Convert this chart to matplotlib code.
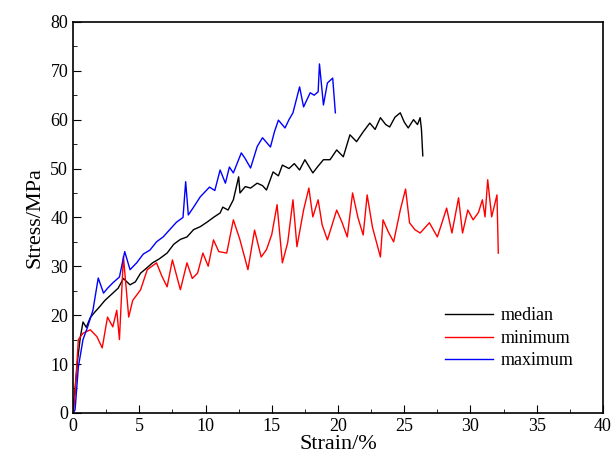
import matplotlib
matplotlib.use("Agg")
import matplotlib.pyplot as plt
from matplotlib.ticker import MultipleLocator

# strain (%) and stress (MPa)
median_strain = [0.0, 0.15, 0.35, 0.55, 0.75, 1.0, 1.3, 1.6, 2.0, 2.4, 3.0, 3.4, 3.8, 4.3, 4.7, 5.1, 5.5, 6.0, 6.5, 7.1,
                 7.6, 8.1, 8.6, 9.1, 9.6, 10.1, 10.6, 11.1, 11.3, 11.7, 12.1, 12.5, 12.6, 13.0, 13.4, 13.9, 14.3, 14.6,
                 15.1, 15.5, 15.8, 16.3, 16.7, 17.1, 17.5, 18.1, 18.5, 18.9, 19.4, 19.9, 20.4, 20.9, 21.4, 21.9, 22.4,
                 22.8, 23.2, 23.6, 23.9, 24.3, 24.7, 25.0, 25.3, 25.7, 26.0, 26.2, 26.3, 26.4]
median_stress = [0.0, 5.0, 11.0, 15.5, 18.6, 17.5, 19.5, 20.5, 21.7, 23.0, 24.5, 25.5, 27.5, 26.2, 26.8, 28.6, 29.5, 30.7,
                 31.5, 32.7, 34.5, 35.5, 36.0, 37.5, 38.1, 39.0, 40.0, 40.9, 42.1, 41.5, 43.6, 48.3, 45.0, 46.3, 46.0,
                 47.0, 46.5, 45.6, 49.3, 48.5, 50.7, 50.0, 51.0, 49.7, 51.8, 49.1, 50.5, 51.8, 51.8, 53.8, 52.4, 56.9,
                 55.5, 57.5, 59.3, 58.0, 60.4, 59.0, 58.5, 60.5, 61.4, 59.5, 58.3, 60.0, 59.0, 60.4, 58.0, 52.6]

minimum_strain = [0.0, 0.15, 0.4, 0.75, 1.3, 1.8, 2.2, 2.6, 3.0, 3.3, 3.5, 3.8, 4.2, 4.5, 5.1, 5.6, 6.3, 6.7, 7.1, 7.5,
                  8.1, 8.6, 9.0, 9.4, 9.8, 10.2, 10.6, 11.0, 11.6, 12.1, 12.6, 13.2, 13.7, 14.2, 14.6, 15.0, 15.4, 15.8,
                  16.2, 16.6, 16.9, 17.4, 17.8, 18.1, 18.5, 18.8, 19.2, 19.5, 19.9, 20.3, 20.7, 21.1, 21.5, 21.9, 22.2,
                  22.6, 23.2, 23.4, 23.8, 24.2, 24.7, 25.1, 25.4, 25.8, 26.2, 26.6, 26.9, 27.5, 27.8, 28.2, 28.6, 29.1,
                  29.4, 29.8, 30.2, 30.6, 30.9, 31.1, 31.3, 31.6, 32.0, 32.1]
minimum_stress = [0.0, 4.0, 15.0, 16.3, 17.0, 15.6, 13.3, 19.6, 17.6, 21.0, 15.0, 32.0, 19.6, 23.0, 25.2, 29.3, 30.7, 28.0,
                  25.8, 31.3, 25.2, 30.7, 27.5, 28.6, 32.7, 30.0, 35.4, 33.0, 32.7, 39.5, 35.4, 29.3, 37.4, 31.9, 33.4,
                  36.5, 42.6, 30.7, 34.8, 43.6, 34.0, 41.5, 46.0, 40.1, 43.6, 38.5, 35.4, 38.0, 41.5, 39.0, 36.0, 45.0,
                  40.0, 36.4, 44.6, 38.0, 31.9, 39.5, 37.0, 35.0, 41.5, 45.8, 38.9, 37.5, 36.8, 38.0, 38.9, 36.0, 38.5,
                  41.9, 36.8, 44.0, 36.8, 41.5, 39.5, 41.0, 43.6, 40.1, 47.7, 40.1, 44.6, 32.7]

maximum_strain = [0.0, 0.15, 0.4, 0.75, 1.1, 1.5, 1.9, 2.3, 2.6, 3.0, 3.5, 3.9, 4.3, 4.8, 5.3, 5.8, 6.3, 6.8, 7.3, 7.8,
                  8.3, 8.5, 8.7, 9.1, 9.6, 10.3, 10.7, 11.1, 11.5, 11.8, 12.1, 12.7, 13.0, 13.4, 13.9, 14.3, 14.9, 15.2,
                  15.5, 16.0, 16.3, 16.6, 17.1, 17.4, 17.9, 18.2, 18.5, 18.6, 18.9, 19.2, 19.6, 19.8]
maximum_stress = [0.0, 0.6, 9.4, 15.0, 17.6, 21.0, 27.6, 24.5, 25.5, 26.6, 27.8, 33.0, 29.3, 30.7, 32.5, 33.3, 35.0, 36.0,
                  37.5, 39.0, 40.0, 47.3, 40.5, 42.1, 44.2, 46.2, 45.5, 49.7, 47.0, 50.3, 49.1, 53.2, 52.0, 50.1, 54.5,
                  56.3, 54.4, 57.5, 59.9, 58.3, 60.0, 61.4, 66.7, 62.6, 65.5, 65.0, 65.7, 71.4, 63.0, 67.5, 68.5, 61.4]

plt.rcParams["font.family"] = "Liberation Serif"

fig = plt.figure(figsize=(6.14, 4.66), dpi=100)
ax = fig.add_axes([0.119, 0.114, 0.863, 0.839])

ax.plot(median_strain, median_stress, color="black", linewidth=1.0, label="median")
ax.plot(minimum_strain, minimum_stress, color="red", linewidth=1.0, label="minimum")
ax.plot(maximum_strain, maximum_stress, color="blue", linewidth=1.0, label="maximum")

ax.set_xlim(0, 40)
ax.set_ylim(0, 80)
ax.xaxis.set_major_locator(MultipleLocator(5))
ax.xaxis.set_minor_locator(MultipleLocator(2.5))
ax.yaxis.set_major_locator(MultipleLocator(10))
ax.yaxis.set_minor_locator(MultipleLocator(5))
ax.tick_params(which="both", direction="in", top=False, right=False, labelsize=13)
ax.tick_params(which="major", length=6)
ax.tick_params(which="minor", length=3)
for s in ax.spines.values():
    s.set_linewidth(1.2)

ax.set_xlabel("Strain/%", fontsize=16, labelpad=0)
ax.set_ylabel("Stress/MPa", fontsize=16, labelpad=4)

ax.legend(loc="lower right", bbox_to_anchor=(0.975, 0.07), frameon=False, fontsize=13,
          handlelength=2.7, handletextpad=0.4, labelspacing=0.3)

fig.savefig("out.png", dpi=100)
